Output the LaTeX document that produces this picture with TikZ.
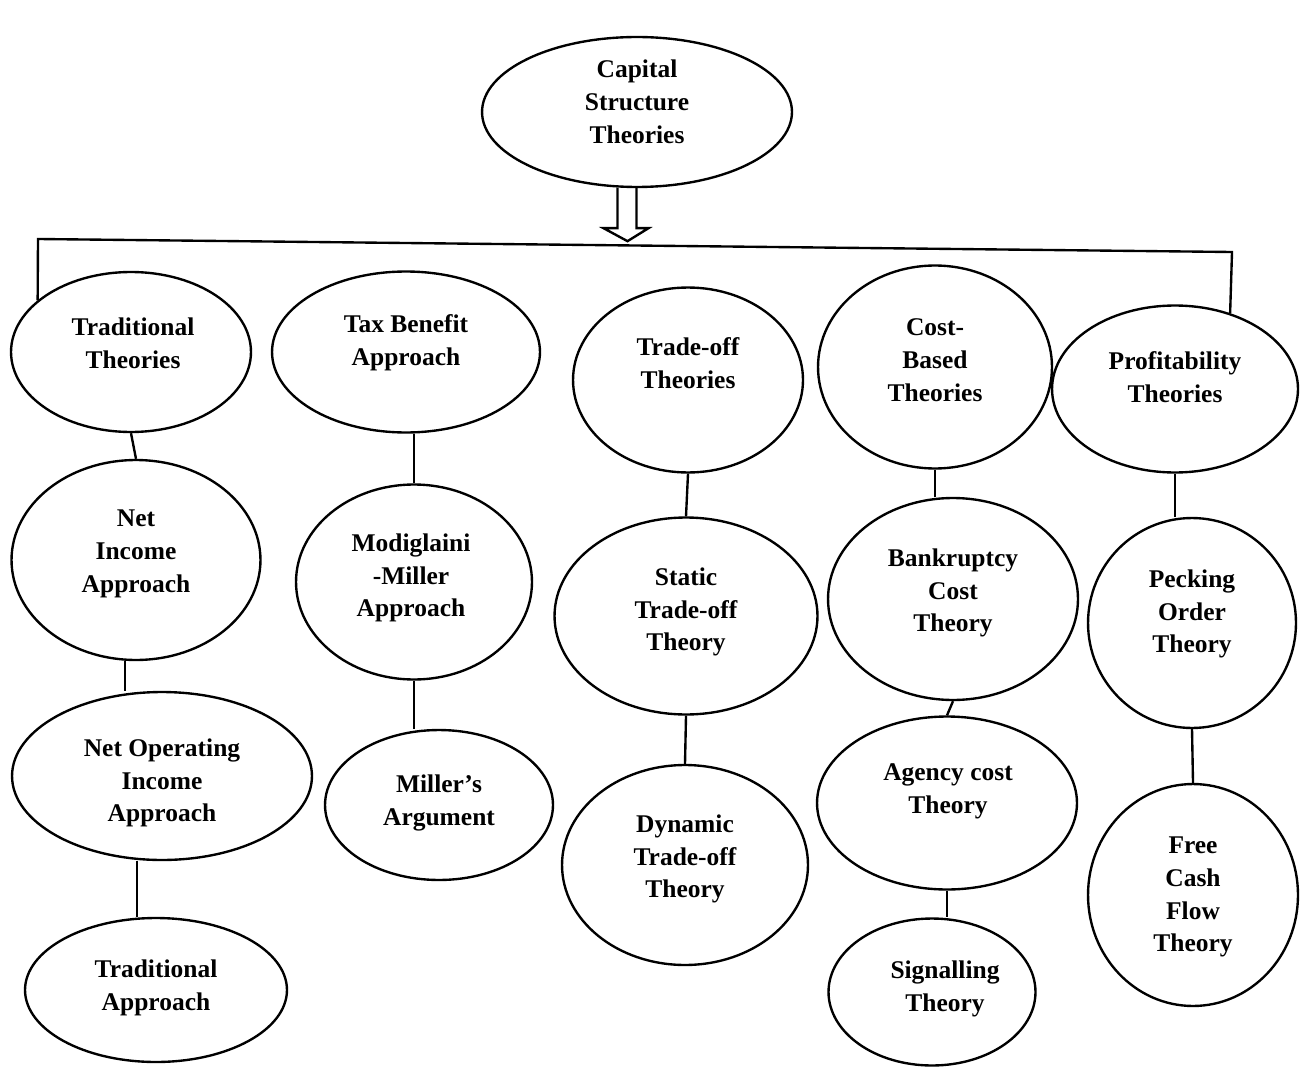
\documentclass[tikz,border=0pt]{standalone}
\usepackage{fontspec}
\setmainfont{Liberation Serif}
\usepackage{tikz}
\usetikzlibrary{positioning,calc,shapes.geometric}

\begin{document}
\begin{tikzpicture}[x=0.02cm,y=-0.02cm,line width=1.35pt,
  oval/.style={draw,ellipse,inner sep=0pt},
  txt/.style={font=\bfseries\fontsize{14.5}{18.7}\selectfont,align=center,inner sep=0pt,yshift=-0.06cm}]
  \useasboundingbox (0,0) rectangle (1300,1067);

  % Root
  \node[oval,minimum width=6.2cm,minimum height=3.0cm] (cap) at (637,112) {};
  \node[txt] (capT) at (637,99) {Capital\\Structure\\Theories};

  % Five groups
  \node[oval,minimum width=4.8cm,minimum height=3.2cm] (trad) at (131,352) {};
  \node[txt] (tradT) at (133,340) {Traditional\\Theories};

  \node[oval,minimum width=5.36cm,minimum height=3.22cm] (tax) at (406,352) {};
  \node[txt] (taxT) at (406,340) {Tax Benefit\\Approach};

  \node[oval,minimum width=4.6cm,minimum height=3.7cm] (tradeoff) at (688,380) {};
  \node[txt] (tradeoffT) at (688,360) {Trade-off\\Theories};

  \node[oval,minimum width=4.68cm,minimum height=4.06cm] (cost) at (935,367) {};
  \node[txt] (costT) at (935,357) {Cost-\\Based\\Theories};

  \node[oval,minimum width=4.92cm,minimum height=3.34cm] (prof) at (1175,389) {};
  \node[txt] (profT) at (1175,374) {Profitability\\Theories};

  % Traditional column
  \node[oval,minimum width=4.98cm,minimum height=4.0cm] (netinc) at (136,560) {};
  \node[txt] (netincT) at (136,551) {Net\\Income\\Approach};

  \node[oval,minimum width=6.0cm,minimum height=3.36cm] (noi) at (162,776) {};
  \node[txt] (noiT) at (162,780) {Net Operating\\Income\\Approach};

  \node[oval,minimum width=5.24cm,minimum height=2.88cm] (tapp) at (156,990) {};
  \node[txt] (tappT) at (156,985) {Traditional\\Approach};

  % Tax benefit column
  \node[oval,minimum width=4.72cm,minimum height=3.9cm] (mm) at (414,582) {};
  \node[txt] (mmT) at (411,575) {Modiglaini\\-Miller\\Approach};

  \node[oval,minimum width=4.56cm,minimum height=3.0cm] (miller) at (439,805) {};
  \node[txt] (millerT) at (439,800) {Miller’s\\Argument};

  % Trade-off column
  \node[oval,minimum width=5.26cm,minimum height=3.94cm] (static) at (686,616) {};
  \node[txt] (staticT) at (686,609) {Static\\Trade-off\\Theory};

  \node[oval,minimum width=4.92cm,minimum height=4.0cm] (dynamic) at (685,865) {};
  \node[txt] (dynamicT) at (685,856) {Dynamic\\Trade-off\\Theory};

  % Cost column
  \node[oval,minimum width=5.0cm,minimum height=4.04cm] (bank) at (953,599) {};
  \node[txt] (bankT) at (953,590) {Bankruptcy\\Cost\\Theory};

  \node[oval,minimum width=5.2cm,minimum height=3.46cm] (agency) at (947,803) {};
  \node[txt] (agencyT) at (948,788) {Agency cost\\Theory};

  \node[oval,minimum width=4.14cm,minimum height=2.94cm] (signal) at (932,992) {};
  \node[txt] (signalT) at (945,986) {Signalling\\Theory};

  % Profitability column
  \node[oval,minimum width=4.16cm,minimum height=4.2cm] (peck) at (1192,623) {};
  \node[txt] (peckT) at (1192,611) {Pecking\\Order\\Theory};

  \node[oval,minimum width=4.2cm,minimum height=4.44cm] (fcf) at (1193,895) {};
  \node[txt] (fcfT) at (1193,894) {Free\\Cash\\Flow\\Theory};

  % Hollow arrow and bracket
  \coordinate (arr) at ([xshift=-0.2cm]cap.south);
  \draw ([xshift=-0.19cm]arr) -- ++(0,40) -- ++(-14,0) -- ++(24,13) -- ++(21,-13) -- ++(-12,0) -- ++(0,-40);
  \coordinate (brL) at (38,239);
  \coordinate (brR) at (1232,252);
  \draw (trad.151) -- (brL) -- (brR) -- (prof.54);

  % Links
  \draw (trad.south) -- (netinc.north);
  \draw ([xshift=-0.22cm]netinc.south) -- ([xshift=-0.22cm]netinc.south |- noi.north);
  \draw ([xshift=-0.5cm]noi.south) -- ([xshift=-0.5cm]noi.south |- tapp.north);
  \draw (tax.south -| mm.north) -- (mm.north);
  \draw (mm.south) -- (mm.south |- miller.north);
  \draw (tradeoff.south) -- (static.north);
  \draw (static.south) -- (dynamic.north);
  \draw (cost.south) -- (cost.south |- bank.north);
  \draw (bank.south) -- (agency.north);
  \draw (agency.south) -- (agency.south |- signal.north);
  \draw (prof.south) -- (prof.south |- peck.north);
  \draw (peck.south) -- (fcf.north);
\end{tikzpicture}
\end{document}
